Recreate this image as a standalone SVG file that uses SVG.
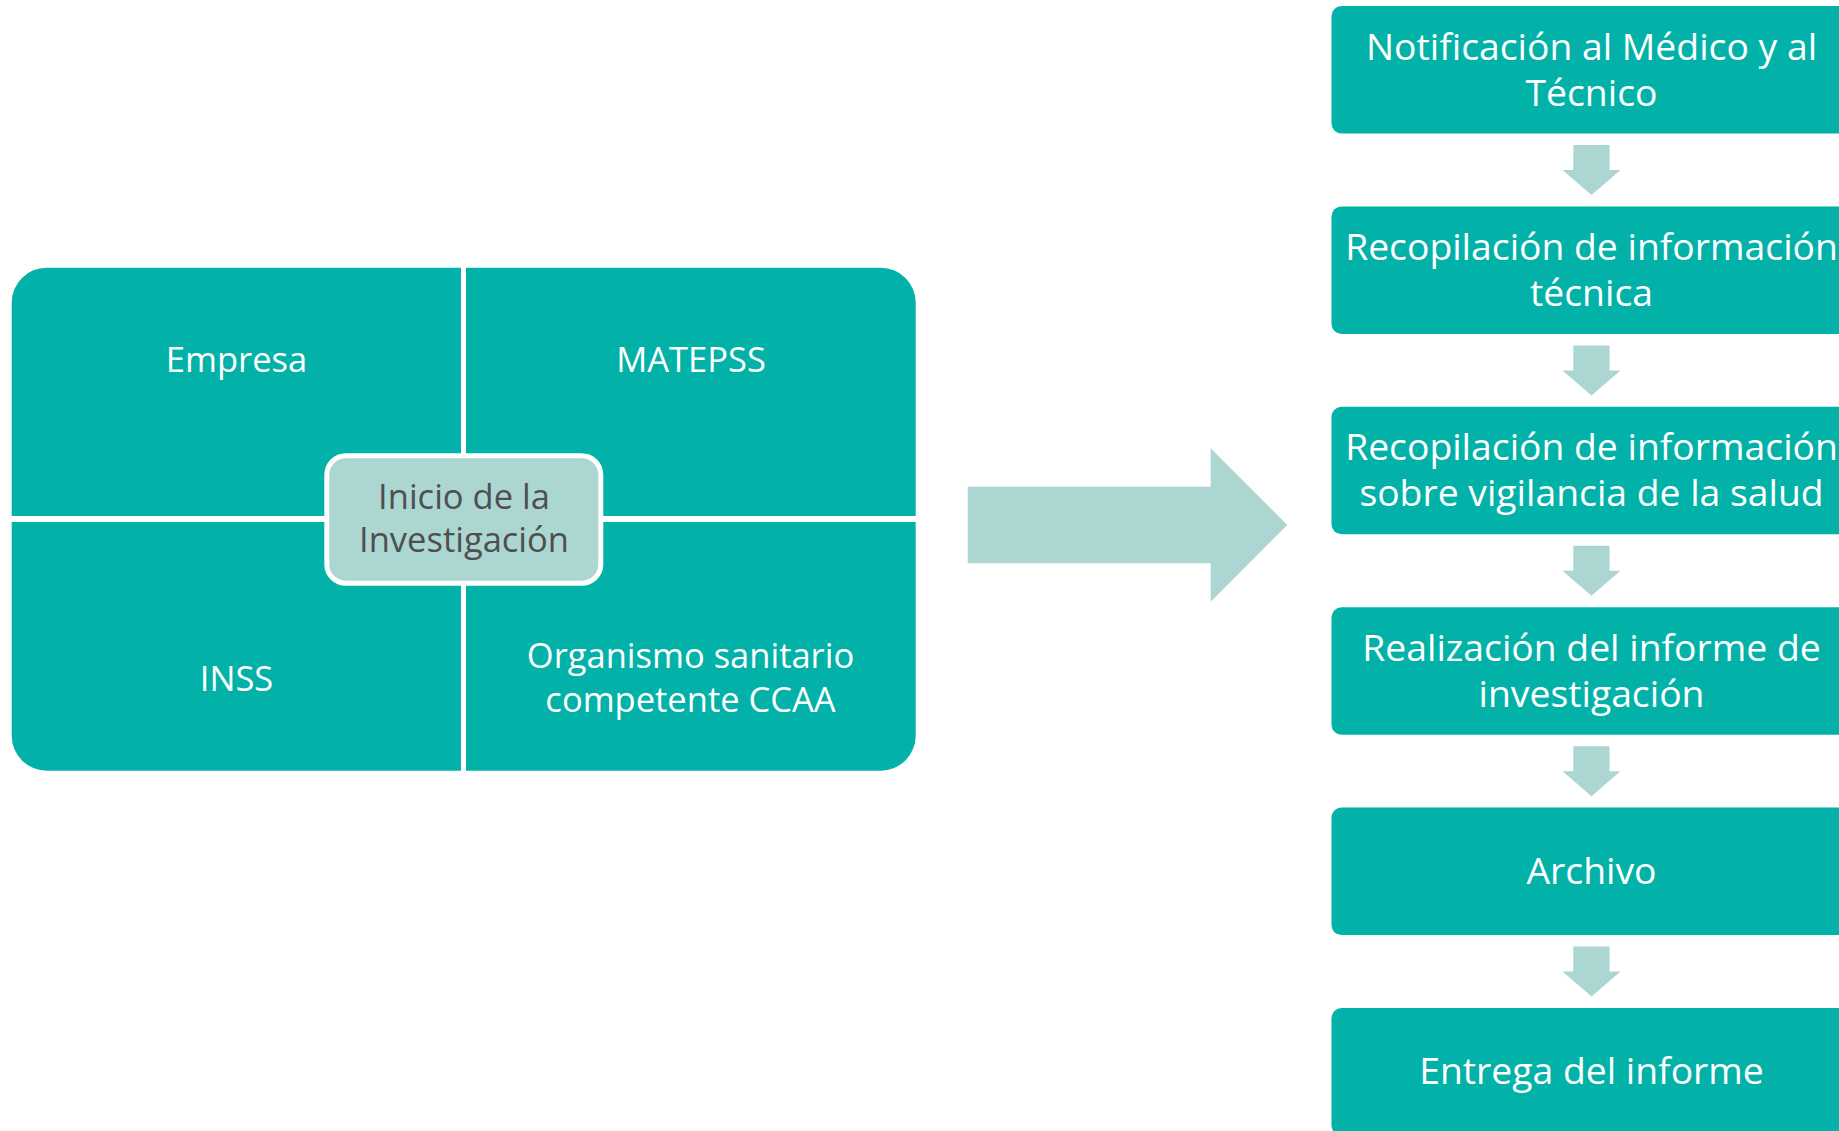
<svg xmlns="http://www.w3.org/2000/svg" width="1839" height="1131" viewBox="0 0 1839 1131">
<style>
.teal{fill:#02B2A9}
.light{fill:#ACD6D1}
.wt{fill:#FFFFFF;font-family:"Open Sans","Noto Sans",sans-serif;text-anchor:middle}
.lt{font-size:34.5px}
.rt{font-size:37.3px}
.dt{fill:#4F4F4F;font-family:"Open Sans","Noto Sans",sans-serif;text-anchor:middle;font-size:34.5px}
</style>
<rect width="1839" height="1131" fill="#FFFFFF"/>
<g id="matrix">
<g id="q-empresa"><path class="teal" d="M461,267.7 V516 H11.7 V302.7 A35,35 0 0 1 46.7,267.7 Z"/><text class="wt lt" x="236.5" y="372">Empresa</text></g>
<g id="q-matepss"><path class="teal" d="M466,267.7 H880.7 A35,35 0 0 1 915.7,302.7 V516 H466 Z"/><text class="wt lt" x="691" y="372">MATEPSS</text></g>
<g id="q-inss"><path class="teal" d="M11.7,522 H461 V770.7 H46.7 A35,35 0 0 1 11.7,735.7 Z"/><text class="wt lt" x="236.5" y="690.5">INSS</text></g>
<g id="q-organismo"><path class="teal" d="M466,522 H915.7 V735.7 A35,35 0 0 1 880.7,770.7 H466 Z"/><text class="wt lt" x="690.5" y="668">Organismo sanitario</text><text class="wt lt" x="690.5" y="712">competente CCAA</text></g>
<g id="center"><rect class="light" x="326.8" y="455.8" width="274" height="127.4" rx="19" stroke="#FFFFFF" stroke-width="5"/><text class="dt" x="464" y="508.5">Inicio de la</text><text class="dt" x="464" y="552">Investigación</text></g>
</g>
<g id="steps">
<g id="s1"><rect class="teal" x="1331.5" y="6" width="520" height="127.5" rx="10"/><text class="wt rt" x="1591.5" y="59.5">Notificación al Médico y al</text><text class="wt rt" x="1591.5" y="105.5">Técnico</text></g>
<g id="s2"><rect class="teal" x="1331.5" y="206.4" width="520" height="127.5" rx="10"/><text class="wt rt" x="1591.5" y="259.5">Recopilación de información</text><text class="wt rt" x="1591.5" y="305.5">técnica</text></g>
<g id="s3"><rect class="teal" x="1331.5" y="406.8" width="520" height="127.5" rx="10"/><text class="wt rt" x="1591.5" y="460">Recopilación de información</text><text class="wt rt" x="1591.5" y="506">sobre vigilancia de la salud</text></g>
<g id="s4"><rect class="teal" x="1331.5" y="607.2" width="520" height="127.5" rx="10"/><text class="wt rt" x="1591.5" y="660.5">Realización del informe de</text><text class="wt rt" x="1591.5" y="706.5">investigación</text></g>
<g id="s5"><rect class="teal" x="1331.5" y="807.6" width="520" height="127.5" rx="10"/><text class="wt rt" x="1591.5" y="884">Archivo</text></g>
<g id="s6"><rect class="teal" x="1331.5" y="1008" width="520" height="127.5" rx="10"/><text class="wt rt" x="1591.5" y="1084">Entrega del informe</text></g>
</g>
<g id="connectors">
<polygon class="light" points="967.7,486.7 1210.7,486.7 1210.7,448.3 1287.3,525 1210.7,601.7 1210.7,563.3 967.7,563.3"/>
<polygon class="light" points="1573.3,145 1609.5,145 1609.5,170 1620.5,170 1591.5,195 1562.5,170 1573.3,170"/>
<polygon class="light" points="1573.3,345.4 1609.5,345.4 1609.5,370.4 1620.5,370.4 1591.5,395.4 1562.5,370.4 1573.3,370.4"/>
<polygon class="light" points="1573.3,545.8 1609.5,545.8 1609.5,570.8 1620.5,570.8 1591.5,595.8 1562.5,570.8 1573.3,570.8"/>
<polygon class="light" points="1573.3,746.2 1609.5,746.2 1609.5,771.2 1620.5,771.2 1591.5,796.2 1562.5,771.2 1573.3,771.2"/>
<polygon class="light" points="1573.3,946.6 1609.5,946.6 1609.5,971.6 1620.5,971.6 1591.5,996.6 1562.5,971.6 1573.3,971.6"/>
</g>
</svg>
